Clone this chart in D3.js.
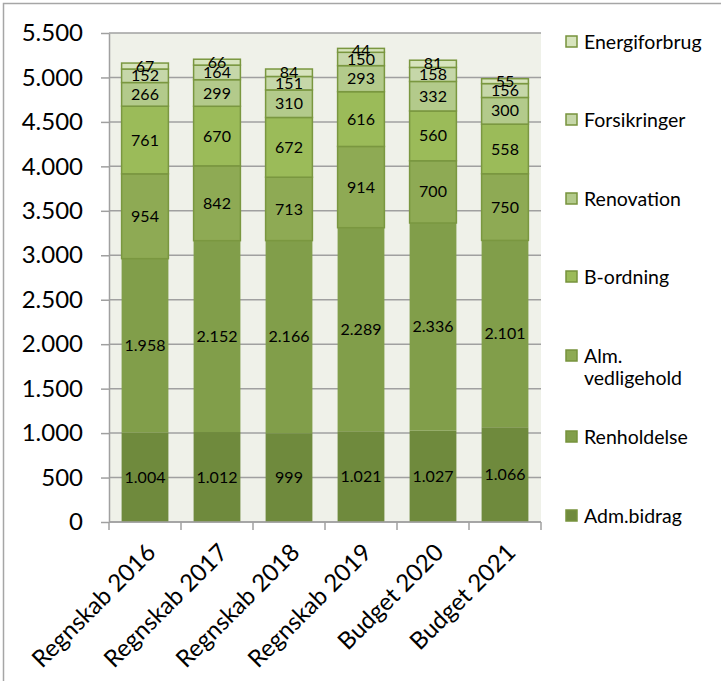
<!DOCTYPE html>
<html>
<head>
<meta charset="utf-8">
<script src="https://cdn.jsdelivr.net/npm/d3@7"></script>
<style>
  body { margin: 0; background: #fff; }
  svg { display: block; font-family: Lato, "Noto Sans", sans-serif; }
</style>
</head>
<body>
<div id="chart"></div>
<script>
// data
var categories = ["Regnskab 2016", "Regnskab 2017", "Regnskab 2018", "Regnskab 2019", "Budget 2020", "Budget 2021"]
var seriesNames = ["Adm.bidrag", "Renholdelse", "Alm. vedligehold", "B-ordning", "Renovation", "Forsikringer", "Energiforbrug"]
var admBidrag = [1004, 1012, 999, 1021, 1027, 1066]
var renholdelse = [1958, 2152, 2166, 2289, 2336, 2101]
var almVedligehold = [954, 842, 713, 914, 700, 750]
var bOrdning = [761, 670, 672, 616, 560, 558]
var renovation = [266, 299, 310, 293, 332, 300]
var forsikringer = [152, 164, 151, 150, 158, 156]
var energiforbrug = [67, 66, 84, 44, 81, 55]
var yTicks = [0, 500, 1000, 1500, 2000, 2500, 3000, 3500, 4000, 4500, 5000, 5500]

var seriesValues = [admBidrag, renholdelse, almVedligehold, bOrdning, renovation, forsikringer, energiforbrug]
var colors = ["#6f8a3d", "#819e4a", "#8eaa54", "#9bbb59", "#b3ca8b", "#c6d7a9", "#d7e4bd"]

var width = 721, height = 681
var margin = { top: 33, left: 109, right: 180, bottom: 159 }
var plotW = width - margin.left - margin.right
var plotH = height - margin.top - margin.bottom

var fmt = d3.formatLocale({ decimal: ",", thousands: ".", grouping: [3], currency: ["", " kr"] }).format(",d")

// rows for the stack
var rows = categories.map((c, i) => {
    var r = { cat: c }
    seriesNames.forEach((s, j) => { r[s] = seriesValues[j][i] })
    return r
})
var stacked = d3.stack().keys(seriesNames)(rows)

const svg = d3.select("#chart").append("svg")
    .attr("width", width)
    .attr("height", height)

// outer frame
svg.append("path")
    .attr("d", `M3.5,${height}V3.5H${width}`)
    .attr("fill", "none")
    .attr("stroke", "#a6a6a6")
    .attr("stroke-width", 1.5)

var x = d3.scaleBand().domain(categories).range([0, plotW]).paddingInner(0.35).paddingOuter(0.175)
var y = d3.scaleLinear().domain([0, 5500]).range([plotH, 0])

const g = svg.append("g").attr("transform", `translate(${margin.left},${margin.top})`)

g.append("rect")
    .attr("width", plotW)
    .attr("height", plotH)
    .attr("fill", "#eff1e9")

// gridlines
g.append("g")
    .selectAll("line")
    .data(yTicks)
    .join("line")
    .attr("x1", 0).attr("x2", plotW)
    .attr("y1", d => y(d)).attr("y2", d => y(d))
    .attr("stroke", "#a0a0a0")
    .attr("stroke-width", 1.5)

// bars
var layer = g.selectAll(".layer")
    .data(stacked)
    .join("g")
    .attr("class", "layer")
    .attr("fill", (d, i) => colors[i])

layer.selectAll("rect")
    .data(d => d)
    .join("rect")
    .attr("x", d => x(d.data.cat))
    .attr("width", x.bandwidth())
    .attr("y", d => y(d[1]))
    .attr("height", d => y(d[0]) - y(d[1]))
    .attr("stroke", (d, i, n) => d3.select(n[i].parentNode).datum().index < 2 ? "none" : "#7a9740")
    .attr("stroke-width", 1.5)

// data labels
layer.selectAll("text")
    .data(d => d)
    .join("text")
    .attr("x", d => x(d.data.cat) + x.bandwidth() / 2)
    .attr("y", d => (y(d[0]) + y(d[1])) / 2)
    .attr("dy", "0.35em")
    .attr("text-anchor", "middle")
    .attr("fill", "#000")
    .attr("font-size", 16)
    .text(d => fmt(d[1] - d[0]))

// y axis
var yAxis = g.append("g")
    .call(d3.axisLeft(y).tickValues(yTicks).tickFormat(fmt).tickSize(8).tickSizeOuter(0))
yAxis.select(".domain").attr("stroke", "#a0a0a0").attr("stroke-width", 1.5)
yAxis.selectAll(".tick line").attr("stroke", "#a0a0a0").attr("stroke-width", 1.5)
yAxis.selectAll(".tick text")
    .attr("font-size", 24)
    .attr("font-family", "Lato, 'Noto Sans', sans-serif")
    .attr("fill", "#000")
    .attr("x", -26)

// x axis
var xAxis = g.append("g").attr("transform", `translate(0,${plotH})`)
xAxis.append("line")
    .attr("x1", 0).attr("x2", plotW)
    .attr("stroke", "#a0a0a0").attr("stroke-width", 1.5)
xAxis.selectAll(".xtick")
    .data(d3.range(categories.length + 1))
    .join("line")
    .attr("x1", i => i * plotW / categories.length)
    .attr("x2", i => i * plotW / categories.length)
    .attr("y1", 0).attr("y2", 8)
    .attr("stroke", "#a0a0a0").attr("stroke-width", 1.5)
xAxis.selectAll(".xlabel")
    .data(categories)
    .join("text")
    .attr("text-anchor", "end")
    .attr("font-size", 24)
    .attr("fill", "#000")
    .attr("transform", d => `translate(${x(d) + x.bandwidth() / 2 + 12},${32}) rotate(-45)`)
    .text(d => d)

// legend
var legendY = [42, 120, 199, 277, 356, 437, 516]
var legend = svg.append("g")
    .selectAll("g")
    .data(seriesNames.map((s, i) => ({ name: s, i: i })).reverse())
    .join("g")
    .attr("transform", d => `translate(566,${legendY[6 - d.i]})`)

legend.append("rect")
    .attr("x", 0).attr("y", -6)
    .attr("width", 11).attr("height", 11)
    .attr("fill", d => colors[d.i])
    .attr("stroke", "#77933c")
    .attr("stroke-width", 1.5)

legend.append("text")
    .attr("x", 18)
    .attr("dy", "0.35em")
    .attr("font-size", 19.5)
    .attr("fill", "#000")
    .each(function (d) {
        var parts = d.name === "Alm. vedligehold" ? ["Alm.", "vedligehold"] : [d.name]
        d3.select(this).selectAll("tspan")
            .data(parts)
            .join("tspan")
            .attr("x", 18)
            .attr("dy", (p, k) => k === 0 ? "0.35em" : "1.15em")
            .text(p => p)
    })
</script>
</body>
</html>
